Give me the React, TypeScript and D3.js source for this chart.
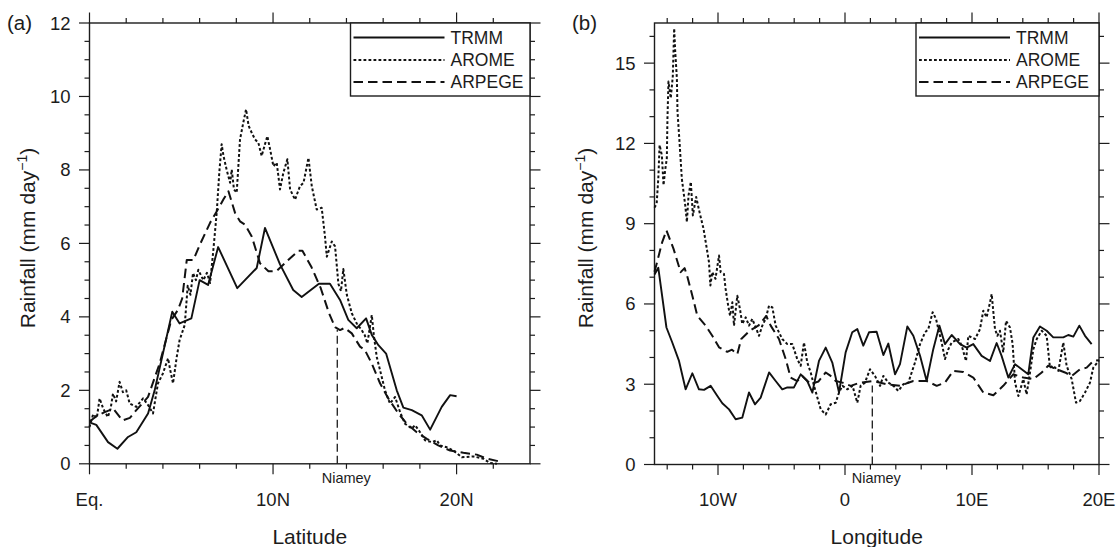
import React from 'react';
import * as d3 from 'd3';

// ---------- DATA ----------
// Panel (a): latitude (deg N) vs rainfall (mm/day)
const latTicks = [0, 10, 20];
const latTickLabels = ['Eq.', '10N', '20N'];
const rainTicksA = [0, 2, 4, 6, 8, 10, 12];

const trmmA: [number, number][] = [
  [0, 1.13], [0.37, 1.06], [1.01, 0.59], [1.52, 0.41], [2.1, 0.73], [2.55, 0.86], [3.19, 1.37],
  [3.55, 2.0], [4.51, 4.14], [4.91, 3.82], [5.55, 3.96], [6.0, 5.0], [6.46, 4.87], [7.01, 5.9],
  [8.05, 4.78], [9.11, 5.33], [9.56, 6.42], [10.38, 5.43], [11.1, 4.73], [11.56, 4.54], [12.5, 4.9],
  [13.1, 4.9], [13.65, 4.46], [14.1, 3.92], [14.56, 3.69], [15.07, 3.96], [15.38, 3.51], [15.74, 3.23],
  [16.16, 3.0], [16.74, 2.0], [17.1, 1.53], [17.56, 1.46], [18.1, 1.32], [18.56, 0.93], [19.19, 1.55],
  [19.65, 1.87], [20.0, 1.84],
];

const aromeA: [number, number][] = [
  [0, 1.0], [0.2, 1.35], [0.4, 1.25], [0.55, 1.78], [0.75, 1.5], [1.0, 1.27], [1.15, 1.5], [1.28, 1.91],
  [1.45, 1.7], [1.64, 2.23], [1.82, 1.95], [2.0, 2.0], [2.19, 1.64], [2.55, 1.55], [2.92, 1.78], [3.19, 1.6],
  [3.46, 1.37], [3.73, 2.19], [4.0, 2.46], [4.28, 2.87], [4.4, 2.55], [4.55, 2.19], [4.75, 2.9], [4.91, 3.37],
  [5.19, 3.78], [5.35, 4.85], [5.5, 4.6], [5.64, 5.19], [5.8, 5.0], [5.93, 5.28], [6.2, 5.0], [6.4, 5.2],
  [6.57, 4.92], [6.75, 5.83], [6.93, 6.83], [7.07, 7.92], [7.2, 8.7], [7.3, 8.38], [7.47, 8.01], [7.66, 7.65],
  [7.75, 8.01], [7.87, 7.47], [8.02, 7.38], [8.2, 8.83], [8.38, 9.29], [8.53, 9.65], [8.67, 9.2], [8.85, 9.0],
  [9.02, 8.83], [9.2, 8.74], [9.38, 8.38], [9.56, 8.7], [9.69, 8.92], [9.84, 8.56], [10.02, 8.1], [10.2, 8.2],
  [10.38, 7.47], [10.56, 7.92], [10.78, 8.29], [10.93, 7.47], [11.2, 7.19], [11.35, 7.4], [11.47, 7.56],
  [11.66, 7.65], [11.93, 8.33], [12.11, 7.56], [12.38, 6.92], [12.65, 6.97], [12.83, 6.19], [12.93, 5.64],
  [13.2, 6.05], [13.38, 5.92], [13.56, 4.9], [13.7, 4.7], [13.83, 5.3], [14.02, 4.6], [14.29, 4.1],
  [14.56, 3.82], [14.83, 3.64], [15.0, 3.5], [15.14, 3.28], [15.38, 4.05], [15.5, 3.46], [15.65, 2.91],
  [15.83, 2.55], [16.1, 2.0], [16.37, 1.64], [16.65, 1.82], [16.92, 1.41], [17.19, 1.09], [17.56, 0.96],
  [17.74, 1.05], [18.01, 0.86], [18.28, 0.64], [18.65, 0.59], [18.92, 0.64], [19.1, 0.5], [19.47, 0.45],
  [19.83, 0.36], [20.28, 0.18], [20.92, 0.2], [21.46, 0.14], [21.83, 0.02], [22.2, 0.0],
];

const arpegeA: [number, number][] = [
  [0, 1.15], [0.4, 1.3], [0.8, 1.4], [1.3, 1.5], [1.8, 1.18], [2.2, 1.25], [2.55, 1.46], [3.19, 1.82],
  [3.82, 2.73], [4.46, 3.92], [4.82, 4.19], [5.05, 4.5], [5.3, 5.55], [5.66, 5.55], [6.0, 5.95], [6.57, 6.56],
  [6.93, 6.87], [7.3, 7.2], [7.57, 7.42], [7.93, 6.83], [8.2, 6.6], [8.47, 6.51], [8.84, 6.19], [9.29, 5.46],
  [9.75, 5.24], [10.2, 5.25], [10.75, 5.51], [11.38, 5.8], [11.6, 5.8], [12.1, 5.35], [12.6, 4.78],
  [13.05, 4.1], [13.38, 3.72], [13.65, 3.64], [13.9, 3.7], [14.29, 3.55], [14.74, 3.19], [15.0, 3.1],
  [15.38, 2.73], [15.83, 2.19], [16.28, 1.78], [16.83, 1.37], [17.29, 1.09], [17.83, 0.86], [18.38, 0.68],
  [19.0, 0.5], [19.65, 0.36], [20.37, 0.3], [21.1, 0.25], [21.65, 0.14], [22.28, 0.07],
];

const niameyLat = 13.5;
const niameyTopA = 3.65;

// Panel (b): longitude (deg E) vs rainfall (mm/day)
const lonTicks = [-10, 0, 10, 20];
const lonTickLabels = ['10W', '0', '10E', '20E'];
const rainTicksB = [0, 3, 6, 9, 12, 15];

const trmmB: [number, number][] = [
  [-15, 7.1], [-14.7, 7.35], [-14.06, 5.12], [-13.6, 4.56], [-13.07, 3.87], [-12.55, 2.81], [-12.02, 3.41],
  [-11.5, 2.81], [-11.1, 2.79], [-10.58, 2.94], [-10.05, 2.56], [-9.66, 2.29], [-9.13, 2.06], [-8.61, 1.69],
  [-8.09, 1.75], [-7.56, 2.69], [-7.09, 2.25], [-6.64, 2.5], [-5.98, 3.44], [-5.46, 3.12], [-4.94, 2.81],
  [-4.54, 2.88], [-4.02, 2.88], [-3.49, 3.37], [-2.97, 3.12], [-2.57, 2.69], [-2.05, 3.87], [-1.52, 4.37],
  [-1.0, 3.81], [-0.47, 2.69], [0.05, 4.19], [0.57, 4.94], [0.97, 5.06], [1.44, 4.44], [1.89, 4.94],
  [2.49, 4.96], [3.02, 4.09], [3.41, 4.52], [3.94, 3.37], [4.33, 3.75], [4.91, 5.16], [5.38, 4.81],
  [5.91, 4.06], [6.43, 3.12], [6.95, 4.31], [7.43, 5.19], [7.87, 4.5], [8.4, 4.84], [9.06, 4.5], [9.58, 4.37],
  [10.1, 4.5], [10.76, 4.06], [11.42, 3.87], [11.94, 4.54], [12.33, 4.06], [12.86, 3.25], [13.39, 3.75],
  [13.91, 3.56], [14.43, 3.37], [14.83, 4.75], [15.35, 5.16], [15.88, 5.0], [16.4, 4.75], [17.19, 4.75],
  [17.58, 4.84], [17.98, 4.78], [18.45, 5.19], [18.9, 4.81], [19.42, 4.5],
];

const aromeB: [number, number][] = [
  [-15, 9.6], [-14.83, 9.75], [-14.7, 10.69], [-14.6, 11.94], [-14.42, 11.56], [-14.29, 10.44], [-14.16, 11.0],
  [-14.03, 11.44], [-13.98, 12.94], [-13.9, 14.31], [-13.72, 13.69], [-13.56, 14.5], [-13.45, 16.3],
  [-13.37, 15.44], [-13.24, 14.44], [-13.19, 13.19], [-13.03, 12.06], [-12.85, 10.69], [-12.58, 9.69],
  [-12.45, 9.06], [-12.32, 10.06], [-12.14, 10.56], [-11.98, 9.31], [-11.72, 10.0], [-11.46, 9.44],
  [-11.14, 8.81], [-10.88, 8.06], [-10.71, 7.56], [-10.6, 6.69], [-10.45, 7.19], [-10.2, 6.94], [-9.92, 7.81],
  [-9.79, 7.19], [-9.53, 7.12], [-9.4, 6.56], [-9.2, 5.94], [-9.05, 5.56], [-8.87, 6.06], [-8.74, 5.19],
  [-8.48, 6.31], [-8.27, 5.81], [-8.09, 5.25], [-7.82, 5.5], [-7.56, 5.19], [-7.3, 5.44], [-7.03, 5.12],
  [-6.77, 4.81], [-6.51, 5.19], [-6.25, 5.44], [-5.98, 5.94], [-5.72, 5.87], [-5.46, 5.19], [-5.2, 4.94],
  [-4.94, 4.69], [-4.54, 4.5], [-4.15, 4.5], [-3.76, 3.94], [-3.49, 3.69], [-3.23, 4.56], [-2.97, 3.81],
  [-2.7, 3.44], [-2.44, 2.94], [-1.91, 2.06], [-1.52, 1.87], [-1.13, 2.25], [-0.73, 2.31], [-0.47, 2.69],
  [-0.2, 2.94], [0.19, 2.81], [0.59, 2.94], [0.97, 2.31], [1.23, 2.94], [1.57, 3.06], [1.97, 3.56],
  [2.36, 3.31], [2.76, 2.94], [3.02, 3.31], [3.41, 3.06], [3.81, 2.94], [4.2, 2.75], [4.6, 3.0], [4.99, 3.06],
  [5.25, 3.44], [5.51, 3.81], [5.91, 4.5], [6.3, 4.94], [6.56, 5.06], [6.9, 5.69], [7.17, 5.44], [7.35, 5.06],
  [7.61, 4.56], [7.87, 3.94], [8.14, 4.31], [8.4, 4.56], [8.92, 4.69], [9.19, 4.44], [9.53, 3.87], [9.71, 4.81],
  [10.24, 4.69], [10.63, 5.06], [10.89, 5.75], [11.15, 5.5], [11.42, 6.06], [11.55, 6.37], [11.81, 5.06],
  [12.0, 4.81], [12.2, 5.0], [12.46, 4.19], [12.68, 5.37], [12.99, 5.12], [13.2, 4.5], [13.39, 3.06],
  [13.65, 2.56], [14.04, 3.19], [14.3, 2.62], [14.57, 3.44], [14.83, 4.31], [15.1, 4.69], [15.49, 5.0],
  [15.88, 4.81], [16.14, 3.62], [16.4, 3.69], [16.8, 3.5], [17.19, 4.56], [17.45, 3.69], [17.85, 3.19],
  [18.19, 2.31], [18.5, 2.37], [18.9, 2.69], [19.29, 3.06], [19.55, 3.62], [19.87, 3.81], [20.0, 3.9],
];

const arpegeB: [number, number][] = [
  [-15, 7.2], [-14.8, 7.56], [-14.4, 8.3], [-14.06, 8.75], [-13.5, 8.06], [-12.94, 7.19], [-12.63, 7.34],
  [-12.4, 7.0], [-12.02, 6.31], [-11.63, 5.56], [-10.97, 5.19], [-10.45, 4.81], [-9.92, 4.38], [-9.27, 4.21],
  [-8.9, 4.29], [-8.48, 4.12], [-8.17, 4.69], [-7.5, 5.0], [-6.8, 5.2], [-6.2, 5.55], [-5.85, 5.19],
  [-5.2, 4.69], [-4.67, 3.94], [-4.28, 3.25], [-3.76, 3.12], [-3.36, 3.31], [-2.7, 3.0], [-2.1, 3.1],
  [-1.52, 3.44], [-1.13, 3.31], [-0.73, 3.12], [-0.2, 3.06], [0.45, 2.94], [1.18, 3.06], [2.23, 3.12],
  [3.28, 3.0], [4.33, 2.94], [5.38, 3.12], [6.43, 3.12], [7.22, 2.94], [7.87, 3.06], [8.53, 3.5], [9.31, 3.46],
  [10.1, 3.25], [10.89, 2.69], [11.68, 2.59], [12.46, 2.94], [13.25, 3.37], [14.04, 3.25], [14.83, 3.19],
  [15.49, 3.44], [16.0, 3.69], [16.67, 3.56], [17.32, 3.44], [17.85, 3.31], [18.5, 3.56], [19.03, 3.62],
  [19.55, 3.87], [20.0, 3.9],
];

const niameyLon = 2.15;
const niameyTopB = 2.95;

const seriesNames = ['TRMM', 'AROME', 'ARPEGE'];

// ---------- STYLE ----------
const FONT = '"Liberation Sans", Arial, Helvetica, sans-serif';
const INK = '#1c1c1c';
const DASH: Record<string, string | undefined> = {
  TRMM: undefined,
  AROME: '2.8,2.2',
  ARPEGE: '9.5,5',
};

type PanelProps = {
  x0: number; x1: number; yTop: number; yBot: number;
  xDomain: [number, number]; yDomain: [number, number];
  xTicks: number[]; xTickLabels: string[]; xMinorStep: number;
  yTicks: number[]; yMinorStep: number;
  data: [number, number][][];
  niamey: number; niameyTop: number; niameyDx: number;
  label: string; labelX: number;
  yTitleX: number; xTitle: string;
  legendX: number;
};

function Panel(p: PanelProps) {
  const x = d3.scaleLinear().domain(p.xDomain).range([p.x0, p.x1]);
  const y = d3.scaleLinear().domain(p.yDomain).range([p.yBot, p.yTop]);
  const line = d3.line<[number, number]>().x((d) => x(d[0])).y((d) => y(d[1]));

  const near = (a: number, b: number) => Math.abs(a - b) < 1e-6;
  const xStart = Math.ceil(p.xDomain[0] / p.xMinorStep) * p.xMinorStep;
  const xMinor = d3.range(xStart, p.xDomain[1] + 1e-6, p.xMinorStep)
    .filter((v) => v > p.xDomain[0] + 1e-6 && v < p.xDomain[1] - 1e-6)
    .filter((v) => !p.xTicks.some((t) => near(t, v)));
  const yMinor = d3.range(p.yDomain[0], p.yDomain[1] + 1e-6, p.yMinorStep)
    .filter((v) => !p.yTicks.some((t) => near(t, v)));

  const MAJ = 10.5, MIN = 5;
  const tickStroke = { stroke: INK, strokeWidth: 1.2 };

  const legendRows = [37.5, 60, 82];
  const legendRight = p.x1;
  const legendBottom = 96;

  return (
    <g>
      {/* frame */}
      <rect x={p.x0} y={p.yTop} width={p.x1 - p.x0} height={p.yBot - p.yTop}
        fill="none" stroke={INK} strokeWidth={1.4} />
      {/* x ticks bottom & top */}
      {p.xTicks.map((t) => (
        <g key={'xt' + t}>
          <line x1={x(t)} x2={x(t)} y1={p.yBot} y2={p.yBot + MAJ} {...tickStroke} />
          <line x1={x(t)} x2={x(t)} y1={p.yTop} y2={p.yTop - MAJ} {...tickStroke} />
        </g>
      ))}
      {xMinor.map((t) => (
        <g key={'xm' + t}>
          <line x1={x(t)} x2={x(t)} y1={p.yBot} y2={p.yBot + MIN} {...tickStroke} />
          <line x1={x(t)} x2={x(t)} y1={p.yTop} y2={p.yTop - MIN} {...tickStroke} />
        </g>
      ))}
      {/* y ticks left & right */}
      {p.yTicks.map((t) => (
        <g key={'yt' + t}>
          <line x1={p.x0} x2={p.x0 - MAJ} y1={y(t)} y2={y(t)} {...tickStroke} />
          <line x1={p.x1} x2={p.x1 + MAJ} y1={y(t)} y2={y(t)} {...tickStroke} />
        </g>
      ))}
      {yMinor.map((t) => (
        <g key={'ym' + t}>
          <line x1={p.x0} x2={p.x0 - MIN} y1={y(t)} y2={y(t)} {...tickStroke} />
          <line x1={p.x1} x2={p.x1 + MIN} y1={y(t)} y2={y(t)} {...tickStroke} />
        </g>
      ))}
      {/* tick labels */}
      {p.xTicks.map((t, i) => (
        <text key={'xl' + t} x={x(t)} y={506} textAnchor="middle" fontSize={18.5}
          fontFamily={FONT} fill={INK}>{p.xTickLabels[i]}</text>
      ))}
      {p.yTicks.map((t) => (
        <text key={'yl' + t} x={p.x0 - 19} y={y(t) + 6.5} textAnchor="end" fontSize={18.5}
          fontFamily={FONT} fill={INK}>{t}</text>
      ))}
      {/* titles */}
      <text x={(p.x0 + p.x1) / 2} y={544} textAnchor="middle" fontSize={21} fontFamily={FONT} fill={INK}>
        {p.xTitle}
      </text>
      <text transform={`translate(${p.yTitleX},238) rotate(-90)`} textAnchor="middle" fontSize={21}
        fontFamily={FONT} fill={INK}>
        Rainfall (mm day<tspan dy={-8} fontSize={14}>−1</tspan><tspan dy={8}>)</tspan>
      </text>
      <text x={p.labelX} y={29.5} fontSize={20.5} fontFamily={FONT} fill={INK}>{p.label}</text>

      {/* Niamey marker */}
      <line x1={x(p.niamey)} x2={x(p.niamey)} y1={y(0)} y2={y(p.niameyTop)}
        stroke={INK} strokeWidth={1.3} strokeDasharray="8,4" />
      <text x={x(p.niamey) + p.niameyDx} y={483} textAnchor="middle" fontSize={14.5}
        fontFamily={FONT} fill={INK}>Niamey</text>

      {/* series */}
      {p.data.map((d, i) => (
        <path key={'s' + i} d={line(d) || ''} fill="none" stroke="#111"
          strokeWidth={i === 0 ? 1.9 : 2.0} strokeDasharray={DASH[seriesNames[i]]}
          strokeLinejoin="round" />
      ))}

      {/* legend */}
      <rect x={p.legendX} y={p.yTop} width={legendRight - p.legendX} height={legendBottom - p.yTop}
        fill="#fff" stroke={INK} strokeWidth={1.4} />
      {seriesNames.map((s, i) => (
        <g key={'lg' + s}>
          <line x1={p.legendX + 3} x2={p.legendX + 94} y1={legendRows[i]} y2={legendRows[i]}
            stroke="#111" strokeWidth={2} strokeDasharray={DASH[s]} />
          <text x={p.legendX + 100} y={legendRows[i] + 6.3} fontSize={17.5} fontFamily={FONT}
            fill={INK}>{s}</text>
        </g>
      ))}
    </g>
  );
}

export default function App() {
  return (
    <svg width={1118} height={547} viewBox="0 0 1118 547"
      style={{ position: 'absolute', left: 0, top: 0, background: '#fff' }}>
      <rect x={0} y={0} width={1118} height={547} fill="#fff" />
      <Panel
        x0={89.5} x1={530} yTop={23} yBot={463.8}
        xDomain={[0, 24]} yDomain={[0, 12]}
        xTicks={latTicks} xTickLabels={latTickLabels} xMinorStep={2}
        yTicks={rainTicksA} yMinorStep={0.5}
        data={[trmmA, aromeA, arpegeA]}
        niamey={niameyLat} niameyTop={niameyTopA} niameyDx={9}
        label="(a)" labelX={7}
        yTitleX={35} xTitle="Latitude"
        legendX={350.5}
      />
      <Panel
        x0={654.5} x1={1099} yTop={23} yBot={464.5}
        xDomain={[-15, 20]} yDomain={[0, 16.5]}
        xTicks={lonTicks} xTickLabels={lonTickLabels} xMinorStep={2}
        yTicks={rainTicksB} yMinorStep={1}
        data={[trmmB, aromeB, arpegeB]}
        niamey={niameyLon} niameyTop={niameyTopB} niameyDx={4}
        label="(b)" labelX={572}
        yTitleX={593} xTitle="Longitude"
        legendX={916}
      />
    </svg>
  );
}
